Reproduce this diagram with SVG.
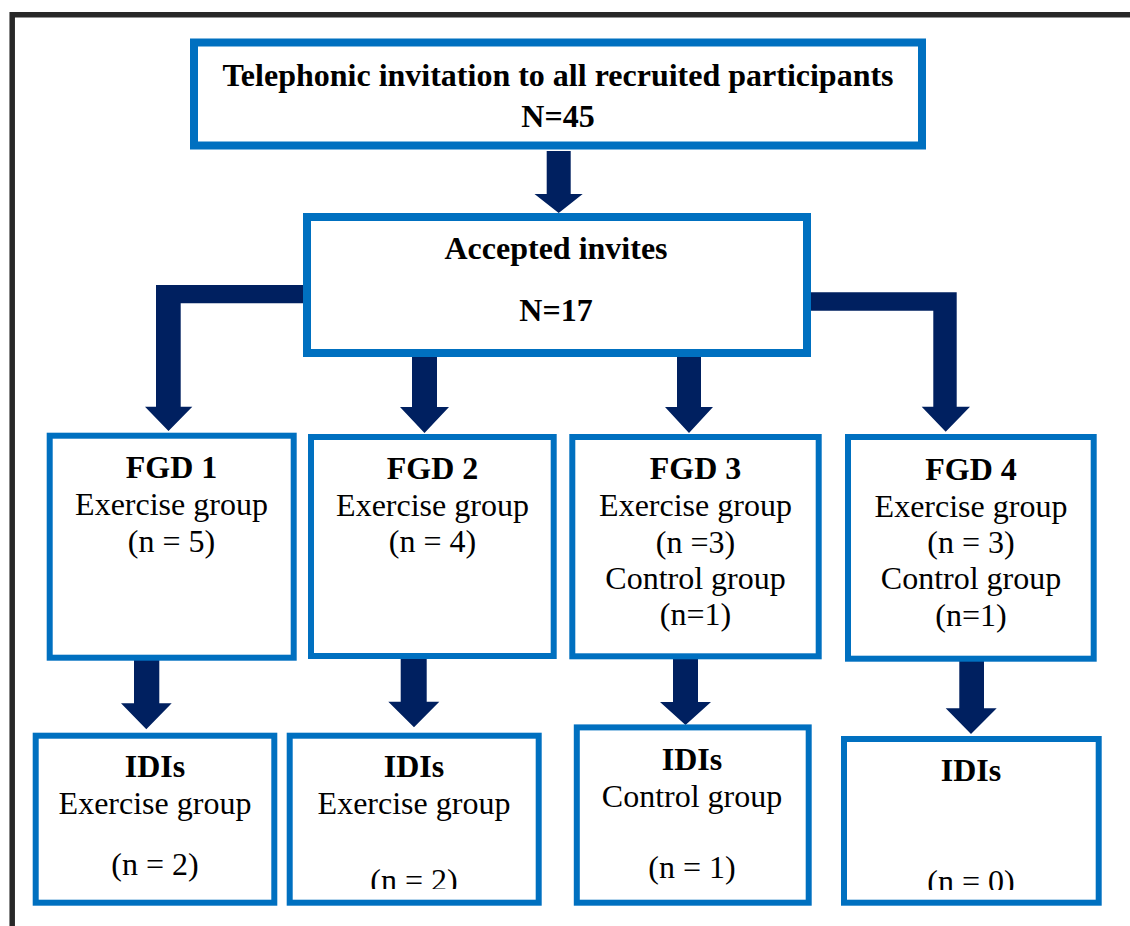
<svg xmlns="http://www.w3.org/2000/svg" width="1130" height="926" viewBox="0 0 1130 926">
  <style>
    .box { fill: #ffffff; stroke: #0070c0; }
    .b8 { stroke-width: 8; }
    .b6 { stroke-width: 6; }
    .arrow { fill: #002060; stroke: none; }
    text { font-family: "Liberation Serif", "Times New Roman", serif; font-size: 32px; fill: #000000; text-anchor: middle; }
    .bold { font-weight: bold; }
  </style>
  <defs>
    <clipPath id="clip-idi2"><rect x="292" y="738" width="244" height="151"/></clipPath>
    <clipPath id="clip-idi4"><rect x="847" y="742" width="249" height="148"/></clipPath>
  </defs>

  <rect width="1130" height="926" fill="#ffffff"/>

  <!-- page frame -->
  <path d="M12.2 926 V14.7 H1130" fill="none" stroke="#282828" stroke-width="5.5"/>

  <!-- block arrows -->
  <g id="connectors">
    <polygon class="arrow" points="546.7,151 570.7,151 570.7,194 582.7,194 558.7,213 534.5,194 546.7,194"/>
    <polygon class="arrow" points="305,285 305,303.3 180.7,303.3 180.7,406.7 192.3,406.7 168.5,431 145,406.7 156,406.7 156,285"/>
    <polygon class="arrow" points="412,355 437,355 437,407 449,407 424.5,433 400,407 412,407"/>
    <polygon class="arrow" points="677,355 701,355 701,407 713,407 689,433 665,407 677,407"/>
    <polygon class="arrow" points="805,292.3 956.7,292.3 956.7,406.7 970,406.7 945.7,431.7 921.7,406.7 933.3,406.7 933.3,310.7 805,310.7"/>
    <polygon class="arrow" points="134,656 159.3,656 159.3,703.3 171.7,703.3 146.3,729.3 121,703.3 134,703.3"/>
    <polygon class="arrow" points="400.7,656 426.7,656 426.7,701.7 439.3,701.7 414,727.3 388.3,701.7 400.7,701.7"/>
    <polygon class="arrow" points="673,656 698,656 698,702 711,702 685.5,725 660,702 673,702"/>
    <polygon class="arrow" points="959.3,659 984,659 984,708.3 996.7,708.3 971,734 945.7,708.3 959.3,708.3"/>
  </g>

  <g id="invitation">
    <rect class="box b8" x="194" y="42.5" width="728" height="103"/>
    <text class="bold" x="558" y="86">Telephonic invitation to all recruited participants</text>
    <text class="bold" x="558" y="127">N=45</text>
  </g>

  <g id="accepted">
    <rect class="box b8" x="307" y="217" width="500" height="136"/>
    <text class="bold" x="556" y="259">Accepted invites</text>
    <text class="bold" x="556" y="321">N=17</text>
  </g>

  <g id="fgd1">
    <rect class="box b6" x="49.7" y="435.7" width="244" height="222"/>
    <text class="bold" x="171.5" y="478">FGD 1</text>
    <text x="171.5" y="515">Exercise group</text>
    <text x="171.5" y="552">(n = 5)</text>
  </g>

  <g id="fgd2">
    <rect class="box b6" x="311" y="437" width="242.7" height="219"/>
    <text class="bold" x="432.5" y="479">FGD 2</text>
    <text x="432.5" y="516">Exercise group</text>
    <text x="432.5" y="552">(n = 4)</text>
  </g>

  <g id="fgd3">
    <rect class="box b6" x="572.3" y="437" width="246.4" height="219.3"/>
    <text class="bold" x="695.5" y="479">FGD 3</text>
    <text x="695.5" y="516">Exercise group</text>
    <text x="695.5" y="553">(n =3)</text>
    <text x="695.5" y="589">Control group</text>
    <text x="695.5" y="625">(n=1)</text>
  </g>

  <g id="fgd4">
    <rect class="box b6" x="848" y="437" width="245.7" height="221.7"/>
    <text class="bold" x="971" y="480">FGD 4</text>
    <text x="971" y="517">Exercise group</text>
    <text x="971" y="553">(n = 3)</text>
    <text x="971" y="589">Control group</text>
    <text x="971" y="626">(n=1)</text>
  </g>

  <g id="idi1">
    <rect class="box b6" x="35.7" y="735.7" width="238.6" height="167"/>
    <text class="bold" x="155" y="777">IDIs</text>
    <text x="155" y="814">Exercise group</text>
    <text x="155" y="875">(n = 2)</text>
  </g>

  <g id="idi2">
    <rect class="box b6" x="289.7" y="735.7" width="249" height="167"/>
    <text class="bold" x="414" y="777">IDIs</text>
    <text x="414" y="814">Exercise group</text>
    <text x="414" y="891" clip-path="url(#clip-idi2)">(n = 2)</text>
  </g>

  <g id="idi3">
    <rect class="box b6" x="576.8" y="727.4" width="231.9" height="175.3"/>
    <text class="bold" x="692" y="770">IDIs</text>
    <text x="692" y="807">Control group</text>
    <text x="692" y="878">(n = 1)</text>
  </g>

  <g id="idi4">
    <rect class="box b6" x="844" y="739" width="254.7" height="163.7"/>
    <text class="bold" x="971" y="781">IDIs</text>
    <text x="971" y="892" clip-path="url(#clip-idi4)">(n = 0)</text>
  </g>
</svg>
